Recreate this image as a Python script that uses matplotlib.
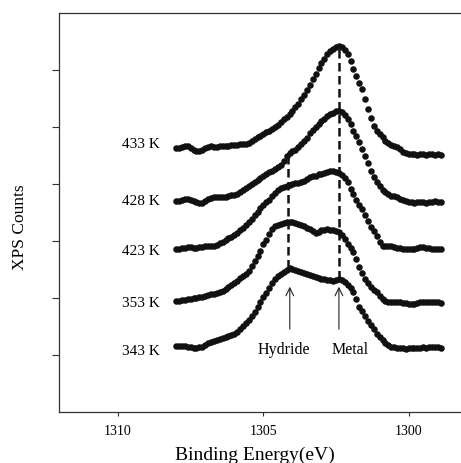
import numpy as np
import matplotlib
matplotlib.use("Agg")
import matplotlib.pyplot as plt

plt.rcParams["font.family"] = ["Liberation Serif", "DejaVu Serif"]

# binding energy grid of the spectra (eV), 0.1 eV steps
energy = np.round(np.arange(1308.0, 1298.85, -0.1), 2)

# stacked spectra (counts, a.u., offsets included)
c433 = [264, 264, 265, 266, 266, 264, 262, 261, 261, 262,
        264, 265, 266, 265, 265, 266, 266, 266, 266, 267,
        267, 267, 268, 268, 268, 269, 271, 273, 275, 276,
        278, 280, 281, 283, 285, 287, 290, 293, 295, 298,
        301, 305, 308, 313, 317, 322, 327, 333, 338, 344,
        349, 353, 358, 361, 363, 365, 366, 365, 362, 358,
        351, 343, 336, 329, 323, 313, 303, 294, 286, 281,
        278, 275, 271, 269, 267, 266, 265, 263, 260, 259,
        258, 258, 258, 257, 258, 258, 257, 258, 258, 257,
        258, 257]
c428 = [211, 211, 212, 213, 213, 212, 211, 210, 209, 209,
        211, 213, 214, 215, 215, 215, 215, 215, 216, 217,
        217, 218, 220, 222, 224, 226, 228, 230, 232, 234,
        236, 238, 240, 241, 243, 245, 247, 251, 256, 259,
        261, 262, 265, 268, 271, 274, 279, 282, 285, 288,
        291, 293, 296, 298, 299, 301, 301, 300, 297, 293,
        288, 281, 276, 270, 263, 256, 249, 241, 235, 230,
        226, 222, 220, 218, 216, 216, 215, 213, 212, 211,
        210, 210, 209, 210, 210, 210, 209, 210, 210, 211,
        210, 210]
c423 = [163, 163, 164, 164, 165, 165, 164, 164, 165, 165,
        166, 166, 166, 166, 167, 169, 170, 172, 174, 175,
        177, 179, 182, 184, 187, 190, 193, 197, 200, 204,
        207, 210, 212, 216, 219, 222, 224, 225, 226, 227,
        228, 229, 229, 230, 231, 233, 235, 236, 236, 238,
        238, 239, 240, 241, 241, 240, 239, 237, 234, 230,
        223, 218, 212, 207, 203, 197, 191, 185, 181, 176,
        170, 166, 166, 166, 166, 165, 164, 164, 163, 163,
        163, 163, 163, 164, 165, 165, 164, 164, 163, 163,
        163, 163]
c353 = [111, 111, 112, 112, 113, 113, 114, 114, 115, 115,
        116, 117, 118, 118, 119, 120, 121, 123, 125, 127,
        129, 131, 134, 136, 138, 141, 146, 151, 156, 161,
        168, 172, 178, 183, 186, 187, 188, 189, 190, 190,
        190, 189, 188, 187, 186, 184, 183, 181, 179, 180,
        182, 182, 183, 182, 182, 181, 180, 177, 173, 168,
        164, 160, 153, 145, 139, 133, 129, 125, 122, 120,
        116, 113, 111, 110, 110, 110, 110, 110, 109, 109,
        108, 108, 108, 109, 110, 110, 110, 110, 110, 110,
        110, 109]
c343 = [66, 66, 66, 66, 65, 65, 64, 64, 65, 65,
        67, 69, 70, 71, 72, 73, 74, 75, 76, 77,
        78, 80, 83, 86, 89, 92, 96, 100, 105, 110,
        115, 119, 124, 129, 133, 136, 138, 140, 142, 144,
        143, 142, 141, 140, 139, 138, 137, 136, 135, 134,
        133, 133, 132, 132, 131, 132, 133, 132, 130, 127,
        124, 120, 113, 105, 101, 96, 91, 87, 83, 78,
        75, 72, 69, 67, 65, 65, 64, 64, 64, 63,
        64, 64, 64, 64, 64, 65, 64, 65, 65, 65,
        65, 64]

spectra = [c433, c428, c423, c353, c343]
temps = ["433 K", "428 K", "423 K", "353 K", "343 K"]
label_y = [268, 211, 161, 109, 61]

# peak positions (eV) and the extent of the guide lines
metal_e, hydride_e = 1302.4, 1304.16
metal_span = (133, 365)
hydride_span = (144, 259)

fig = plt.figure(figsize=(4.61, 4.64), dpi=100)
ax = fig.add_axes([0.128, 0.110, 0.872, 0.860])

for vals in spectra:
    ax.plot(energy, vals, 'o', ms=4.7, mew=0, color='#111111', zorder=3)

for lbl, y in zip(temps, label_y):
    ax.text(1308.56, y, lbl, ha='right', va='center', fontsize=11)

ax.plot([metal_e, metal_e], metal_span, color='#111111', lw=1.8,
        dashes=(3.4, 1.8), zorder=2)
ax.plot([hydride_e, hydride_e], hydride_span, color='#111111', lw=1.8,
        dashes=(3.4, 1.8), zorder=2)

for e in (1304.09, metal_e):
    ax.annotate('', xy=(e, 128), xytext=(e, 80),
                arrowprops=dict(arrowstyle='->', lw=0.8, color='#222222',
                                mutation_scale=14))
ax.text(1304.3, 63, 'Hydride', ha='center', va='center', fontsize=11.5)
ax.text(1302.03, 63, 'Metal', ha='center', va='center', fontsize=11.5)

ax.set_xlim(1312.03, 1298.2)
ax.set_ylim(0, 399)
ax.set_xticks([1310, 1305, 1300])
ax.set_yticks([57, 114, 171, 228, 285, 342])
ax.set_yticklabels([])
ax.tick_params(axis='x', direction='out', length=3, width=0.8,
               labelsize=10, pad=6, color='#333333')
ax.tick_params(axis='y', direction='out', length=5, width=0.8,
               color='#333333')
ax.spines['right'].set_visible(False)
for s in ('left', 'top', 'bottom'):
    ax.spines[s].set_linewidth(0.9)
    ax.spines[s].set_color('#333333')

fig.text(0.043, 0.511, 'XPS Counts', rotation=90, ha='center',
         va='center', fontsize=12.5)
fig.text(0.553, 0.019, 'Binding Energy(eV)', ha='center', va='center',
         fontsize=14)

fig.savefig('out.png', dpi=100)
